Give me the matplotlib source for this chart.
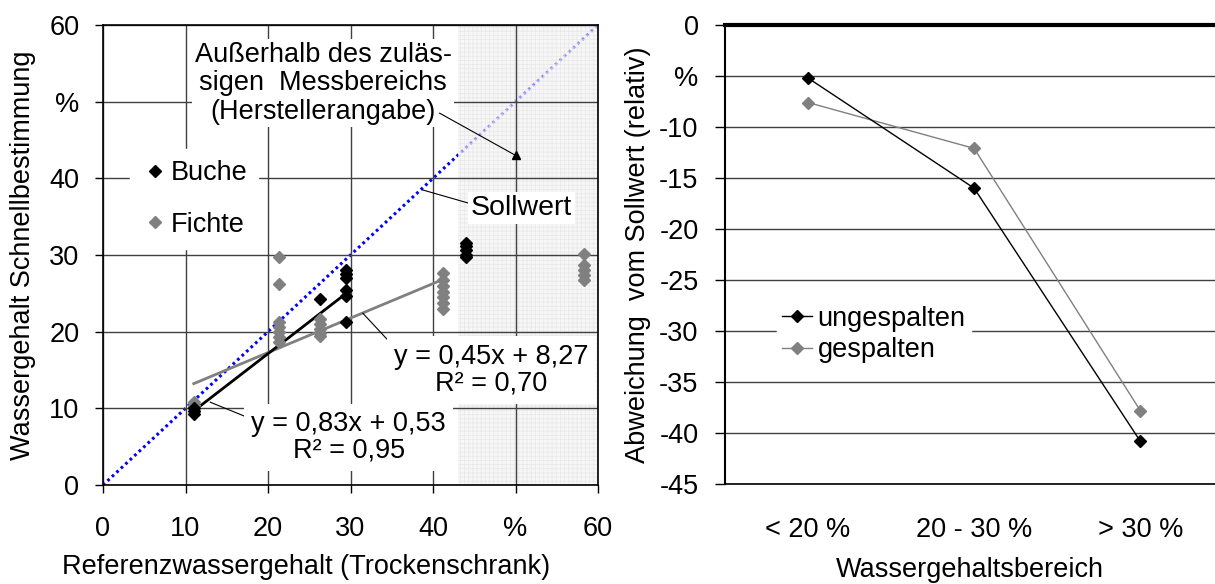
import matplotlib
matplotlib.use('Agg')
import matplotlib.pyplot as plt

plt.rcParams['font.family'] = ['Liberation Sans', 'DejaVu Sans']
plt.rcParams['hatch.linewidth'] = 0.6

# --- left chart data ---
buche_x = [11, 11, 11, 26.3, 29.5, 29.5, 29.5, 29.5, 29.5, 29.5, 44, 44, 44, 44, 44]
buche_y = [9.3, 9.7, 10.0, 24.3, 28.0, 27.5, 27.0, 25.4, 24.6, 21.3, 31.6, 31.2, 30.6, 30.0, 29.7]
fichte_x = [11, 11, 11,
            21.3, 21.3, 21.3, 21.3, 21.3, 21.3, 21.3,
            26.3, 26.3, 26.3, 26.3, 26.3,
            41.2, 41.2, 41.2, 41.2, 41.2, 41.2, 41.2,
            58.3, 58.3, 58.3, 58.3, 58.3]
fichte_y = [10.2, 10.5, 10.8,
            29.7, 26.2, 21.3, 20.6, 20.0, 19.3, 18.6,
            21.6, 21.0, 20.4, 19.8, 19.4,
            27.6, 26.8, 26.0, 25.2, 24.5, 23.8, 23.0,
            30.1, 28.7, 28.0, 27.4, 26.7]
sollwert = [0, 60]
buche_fit = (0.83, 0.53)     # slope, intercept
buche_fit_range = [11, 29.5]
fichte_fit = (0.45, 8.27)
fichte_fit_range = [11, 41]
limit_x = 43                 # start of the non-permitted measuring range
marker_pt = (50, 43)
xticklabels_l = ['0', '10', '20', '30', '40', '%', '60']
yticklabels_l = ['0', '10', '20', '30', '40', '%', '60']

# --- right chart data ---
ranges = ['< 20 %', '20 - 30 %', '> 30 %']
ungespalten = [-5.2, -16.0, -40.8]
gespalten = [-7.6, -12.1, -37.8]
yticks_r = list(range(-45, 1, 5))
yticklabels_r = ['-45', '-40', '-35', '-30', '-25', '-20', '-15', '-10', '%', '0']

FS = 19.5
grey = '#808080'

fig = plt.figure(figsize=(12.15, 5.84), dpi=100)
ax1 = fig.add_axes([103 / 1215, 99 / 584, 495 / 1215, 460 / 584])
ax2 = fig.add_axes([725 / 1215, 100 / 584, 490 / 1215, 459 / 584])

# left chart
ax1.set_xlim(0, 60)
ax1.set_ylim(0, 60)
ax1.set_axisbelow(True)
ax1.grid(True, color='#404040', lw=1)
ax1.plot(sollwert, sollwert, color='#0000ff', lw=2.2, ls=(0, (0.9, 1.1)), zorder=0.3)
ax1.axvspan(limit_x, 60, facecolor='#f2f2f2', edgecolor='#e0e0e0', hatch='++++',
            lw=0, alpha=0.6, zorder=0.4)

fx = fichte_fit_range
ax1.plot(fx, [fichte_fit[0] * v + fichte_fit[1] for v in fx], color=grey, lw=2, zorder=2)
bx = buche_fit_range
ax1.plot(bx, [buche_fit[0] * v + buche_fit[1] for v in bx], color='black', lw=2, zorder=2)
ax1.plot(fichte_x, fichte_y, ls='none', marker='D', ms=6.5, color=grey, label='Fichte', zorder=3)
ax1.plot(buche_x, buche_y, ls='none', marker='D', ms=6.5, color='black', label='Buche', zorder=3)

ax1.set_xticks(range(0, 61, 10))
ax1.set_xticklabels(xticklabels_l)
ax1.set_yticks(range(0, 61, 10))
ax1.set_yticklabels(yticklabels_l)
ax1.tick_params(axis='both', direction='out', length=6, width=1, labelsize=FS)
ax1.tick_params(axis='x', pad=16)
ax1.tick_params(axis='y', pad=11)
for s in ax1.spines.values():
    s.set_color('black')
    s.set_linewidth(1.2)

ax1.set_xlabel('Referenzwassergehalt (Trockenschrank)', fontsize=FS)
ax1.xaxis.set_label_coords(0.41, -0.15)
ax1.set_ylabel('Wassergehalt Schnellbestimmung', fontsize=FS)
ax1.yaxis.set_label_coords(-0.135, 0.5)

h, l = ax1.get_legend_handles_labels()
leg = ax1.legend(h[::-1], l[::-1], loc='upper left', bbox_to_anchor=(0.055, 0.73),
                 fontsize=FS, frameon=True, fancybox=False, framealpha=1,
                 edgecolor='white', labelspacing=0.95, handletextpad=0.1,
                 handlelength=1.0, borderaxespad=0)
leg.set_zorder(4)

box = dict(facecolor='white', edgecolor='none', pad=2)
ax1.text(26.7, 52.4, 'Außerhalb des zuläs-\nsigen  Messbereichs\n(Herstellerangabe)',
         ha='center', va='center', fontsize=FS, linespacing=1.12, bbox=box, zorder=4)
ax1.plot([40.8, marker_pt[0]], [48.5, marker_pt[1]], color='black', lw=0.8, zorder=4)
ax1.plot(*marker_pt, marker='^', ms=6, color='black', zorder=4)

ax1.plot([38.7, 44.2], [38.5, 36.8], color='black', lw=0.8, zorder=4)
ax1.text(50.7, 36.1, 'Sollwert', ha='center', va='center', fontsize=FS + 1,
         bbox=box, zorder=4)

ax1.plot([31.5, 36.0], [22.4, 17.2], color='black', lw=0.8, zorder=4)
ax1.text(47.1, 15.0, 'y = 0,45x + 8,27\nR² = 0,70', ha='center', va='center',
         fontsize=FS, linespacing=1.05, bbox=dict(facecolor='white', edgecolor='none', pad=5),
         zorder=4)
ax1.plot([13.0, 18.7], [10.8, 8.3], color='black', lw=0.8, zorder=4)
ax1.text(29.8, 6.2, 'y = 0,83x + 0,53\nR² = 0,95', ha='center', va='center',
         fontsize=FS, linespacing=1.05, bbox=dict(facecolor='white', edgecolor='none', pad=5),
         zorder=4)

# right chart
pos = list(range(len(ranges)))
ax2.plot(pos, ungespalten, color='black', marker='D', ms=5.8, lw=1, label='ungespalten', zorder=3)
ax2.plot(pos, gespalten, color=grey, marker='D', ms=5.8, lw=1, label='gespalten', zorder=2)
ax2.set_xlim(-0.5, 2.45)
ax2.set_ylim(-45, 0)
ax2.set_yticks(yticks_r)
ax2.set_yticklabels(yticklabels_r)
ax2.set_xticks(pos)
ax2.set_xticklabels(ranges)
ax2.set_axisbelow(True)
ax2.yaxis.grid(True, color='#404040', lw=1)
ax2.tick_params(axis='y', direction='out', length=7, width=1, labelsize=FS, pad=12)
ax2.tick_params(axis='x', length=0, labelsize=FS, pad=24)
ax2.spines['right'].set_visible(False)
ax2.spines['top'].set_linewidth(3)
ax2.spines['left'].set_linewidth(1.5)
ax2.spines['bottom'].set_linewidth(1.2)
for s in ax2.spines.values():
    s.set_color('black')

ax2.set_xlabel('Wassergehaltsbereich', fontsize=FS)
ax2.xaxis.set_label_coords(0.5, -0.16)
ax2.set_ylabel('Abweichung  vom Sollwert (relativ)', fontsize=FS)
ax2.yaxis.set_label_coords(-0.15, 0.5)

ax2.legend(loc='upper left', bbox_to_anchor=(0.106, 0.40), fontsize=FS, frameon=True,
           fancybox=False, framealpha=1, edgecolor='white', labelspacing=0.2,
           handletextpad=0.2, handlelength=1.1, borderaxespad=0, borderpad=0.2)

fig.savefig('out.png', dpi=100)
